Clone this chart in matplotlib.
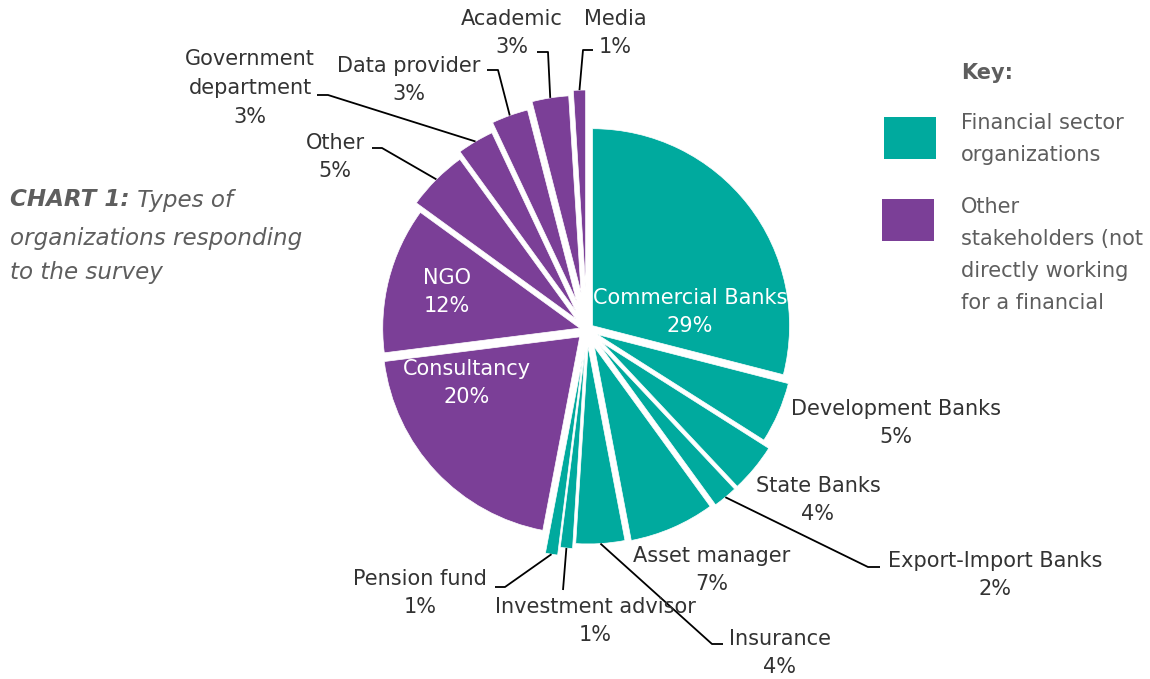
import matplotlib
matplotlib.use("Agg")
import matplotlib.pyplot as plt
from matplotlib.patches import Rectangle
import numpy as np

# ---------------- data ----------------
categories = ["Commercial Banks", "Development Banks", "State Banks",
              "Export-Import Banks", "Asset manager", "Insurance",
              "Investment advisor", "Pension fund", "Consultancy", "NGO",
              "Other", "Government\ndepartment", "Data provider",
              "Academic", "Media"]
shares = [29, 5, 4, 2, 7, 4, 1, 1, 20, 12, 5, 3, 3, 3, 1]
groups = ["fin", "fin", "fin", "fin", "fin", "fin", "fin", "fin",
          "oth", "oth", "oth", "oth", "oth", "oth", "oth"]
legend_title = "Key:"
legend_labels = ["Financial sector\norganizations",
                 "Other\nstakeholders (not\ndirectly working\nfor a financial"]
title_bold = "CHART 1:"
title_lines = [" Types of", "organizations responding", "to the survey"]

# ---------------- style / layout ----------------
W, H = 1150, 679
TEAL = "#00AA9E"
PURPLE = "#7B3F97"
LABEL_C = "#333333"
GREY = "#5E5E5E"
FONT = "DejaVu Sans"
group_color = {"fin": TEAL, "oth": PURPLE}

def py(y):
    return H - y

CX, CY = 587, py(330)
R = 197
explode_px = [7, 11.5, 20, 20, 18.5, 17, 22, 30, 10, 7.5, 16, 22, 31, 38, 43]

# label centres (pixel coords from top-left)
label_pos = {0: (690, 312), 1: (896, 423), 2: (818, 500), 3: (995, 575),
             4: (712, 570), 5: (780, 653), 6: (595, 621), 7: (420, 593),
             8: (467, 383), 9: (447, 292), 10: (335, 157), 11: (250, 88),
             12: (409, 80), 13: (512, 33), 14: (615, 33)}
inside = {0, 8, 9}
leaders = {14: [(583, 50), (593, 50)],
           13: [(548, 52), (537, 52)],
           12: [(498, 70), (487, 70)],
           11: [(328, 95), (317, 95)],
           10: [(382, 148), (372, 148)],
           3: [(868, 567), (880, 567)],
           5: [(712, 644), (723, 644)],
           6: [(563, 590)],
           7: [(505, 587), (495, 587)]}

plt.rcParams["font.family"] = [FONT]
fig = plt.figure(figsize=(W / 100, H / 100), dpi=100)
ax = fig.add_axes([0, 0, 1, 1])

colors = [group_color[g] for g in groups]
# matplotlib's explode offsets are in data units (pixels here)
wedges, _ = ax.pie(shares, colors=colors, startangle=90, counterclock=False,
                   radius=R, center=(CX, CY), explode=explode_px,
                   wedgeprops=dict(linewidth=0.5, edgecolor="white"))
ax.set_xlim(0, W)
ax.set_ylim(0, H)
ax.set_aspect("equal")
ax.axis("off")

# labels
for i, (cat, s) in enumerate(zip(categories, shares)):
    x, y = label_pos[i]
    col = "white" if i in inside else LABEL_C
    ax.text(x, py(y), f"{cat}\n{s}%", ha="center", va="center",
            fontsize=15, color=col, linespacing=1.55)

# leader lines
for i, pts in leaders.items():
    w = wedges[i]
    mid = np.deg2rad((w.theta1 + w.theta2) / 2)
    sx = w.center[0] + w.r * np.cos(mid)
    sy = w.center[1] + w.r * np.sin(mid)
    xs = [sx] + [p[0] for p in pts]
    ys = [sy] + [py(p[1]) for p in pts]
    ax.plot(xs, ys, color="black", lw=1.3, solid_capstyle="butt")

# title
TS = 16.6
renderer = fig.canvas.get_renderer()
t0 = ax.text(10, py(200), title_bold, ha="left", va="center", fontsize=TS,
             fontweight="bold", fontstyle="italic", color=GREY)
bb = t0.get_window_extent(renderer)
ax.text(bb.x1, py(200), title_lines[0], ha="left", va="center", fontsize=TS,
        fontstyle="italic", color=GREY)
ax.text(10, py(238), title_lines[1], ha="left", va="center", fontsize=TS,
        fontstyle="italic", color=GREY)
ax.text(10, py(273), title_lines[2], ha="left", va="center", fontsize=TS,
        fontstyle="italic", color=GREY)

# legend
ax.text(961, py(73), legend_title, ha="left", va="center", fontsize=15,
        fontweight="bold", color=GREY)
leg_boxes = [(884, 117), (882, 199)]
leg_text_y = [139, 255]
for (bx, by), lab, ty, g in zip(leg_boxes, legend_labels, leg_text_y, ["fin", "oth"]):
    ax.add_patch(Rectangle((bx, py(by + 42)), 52, 42, facecolor=group_color[g],
                           edgecolor="none"))
    ax.text(961, py(ty), lab, ha="left", va="center", fontsize=15,
            color=GREY, linespacing=1.75)

fig.savefig("out.png", dpi=100)
